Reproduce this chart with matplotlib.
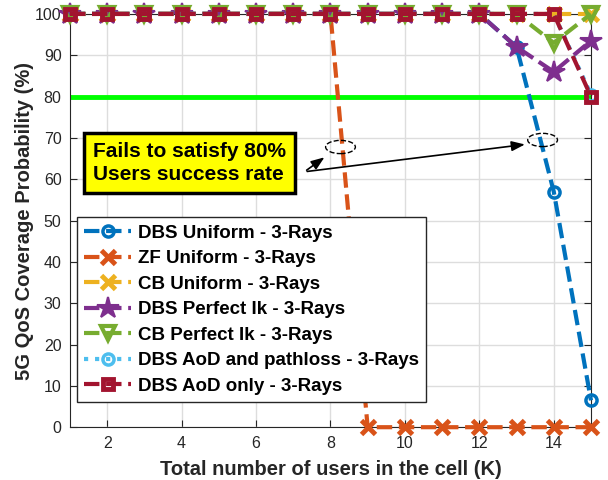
import matplotlib
matplotlib.use("Agg")
import matplotlib.pyplot as plt
from matplotlib.patches import Ellipse

plt.rcParams['font.family'] = ['Liberation Sans', 'DejaVu Sans']

K = list(range(1, 16))
dbs_uniform = [100]*12 + [92, 57, 6.5]
zf_uniform = [100]*8 + [0]*7
cb_uniform = [100]*15
dbs_perfect = [100]*12 + [92, 86, 93.5]
cb_perfect = [100]*13 + [93, 100]
dbs_aod_pl = [100]*14 + [80.5]
dbs_aod = [100]*14 + [80]

labels = ["DBS Uniform - 3-Rays", "ZF Uniform - 3-Rays", "CB Uniform - 3-Rays",
          "DBS Perfect Ik - 3-Rays", "CB Perfect Ik - 3-Rays",
          "DBS AoD and pathloss - 3-Rays", "DBS AoD only - 3-Rays"]

fig = plt.figure(figsize=(6.08, 4.80), dpi=100)
ax = fig.add_axes([0.115, 0.110, 0.857, 0.861])

lw = 3
styles = [
    (dbs_uniform, '#0072BD', '--', 'o', 8, 'none', 2.5),
    (zf_uniform, '#D95319', '--', 'x', 10, '#D95319', 3.5),
    (cb_uniform, '#EDB120', '--', 'x', 10, '#EDB120', 3.5),
    (dbs_perfect, '#7E2F8E', '--', '*', 16, '#7E2F8E', 1.5),
    (cb_perfect, '#77AC30', '--', 'v', 10, 'none', 3),
    (dbs_aod_pl, '#4DBEEE', ':', 'o', 8, 'none', 2.5),
    (dbs_aod, '#A2142F', '--', 's', 7, 'none', 3.5),
]
for (vals, c, ls, m, ms, mfc, mew), lab in zip(styles, labels):
    ax.plot(K, vals, color=c, linestyle=ls, linewidth=lw, marker=m, markersize=ms,
            markerfacecolor=mfc, markeredgecolor=c, markeredgewidth=mew,
            label=lab, clip_on=False, zorder=3)

ax.axhline(80, color='#00FF00', linewidth=3.5, zorder=2.5)

ax.set_xlim(1, 15)
ax.set_ylim(0, 100)
ax.set_xticks([2, 4, 6, 8, 10, 12, 14])
ax.set_yticks(range(0, 101, 10))
ax.grid(True, color='#DDDDDD', linewidth=1)
ax.set_axisbelow(True)
ax.tick_params(direction='in', top=True, right=True, labelsize=11.5, length=5,
               colors='#262626', pad=6)
for s in ax.spines.values():
    s.set_color('#262626')

ax.set_xlabel("Total number of users in the cell (K)", fontsize=14.5, fontweight='bold',
              color='#262626', labelpad=7)
ax.set_ylabel("5G QoS Coverage Probability (%)", fontsize=14.5, fontweight='bold',
              color='#262626', labelpad=0.5)

leg = ax.legend(loc='lower left', bbox_to_anchor=(0.0134, 0.06), borderaxespad=0,
                prop={'weight': 'bold', 'size': 13.5},
                handlelength=2.5, fancybox=False, edgecolor='#262626', framealpha=1,
                borderpad=0.4, labelspacing=0.45, handletextpad=0.35)
leg.get_frame().set_linewidth(1)

# ellipses
for (xc, yc) in [(8.27, 67.8), (13.7, 69.5)]:
    e = Ellipse((xc, yc), width=0.8, height=3.2, fill=False, linestyle='--', edgecolor='black',
                linewidth=1, zorder=6)
    ax.add_patch(e)

ax.text(1.62, 63.9, "Fails to satisfy 80%\nUsers success rate", fontsize=15, fontweight='bold',
        va='center', ha='left', zorder=7, linespacing=1.3,
        bbox=dict(boxstyle='square,pad=0.42', facecolor='#FFFF00', edgecolor='black', linewidth=2.5))

ax.annotate("", xy=(7.9, 65.7), xytext=(7.3, 61.8),
            arrowprops=dict(arrowstyle='-|>,head_length=0.8,head_width=0.3', color='black', lw=1.2), zorder=7)
ax.annotate("", xy=(13.3, 68.5), xytext=(7.3, 61.8),
            arrowprops=dict(arrowstyle='-|>,head_length=0.8,head_width=0.3', color='black', lw=1.2), zorder=7)

fig.savefig("out.png", dpi=100)
